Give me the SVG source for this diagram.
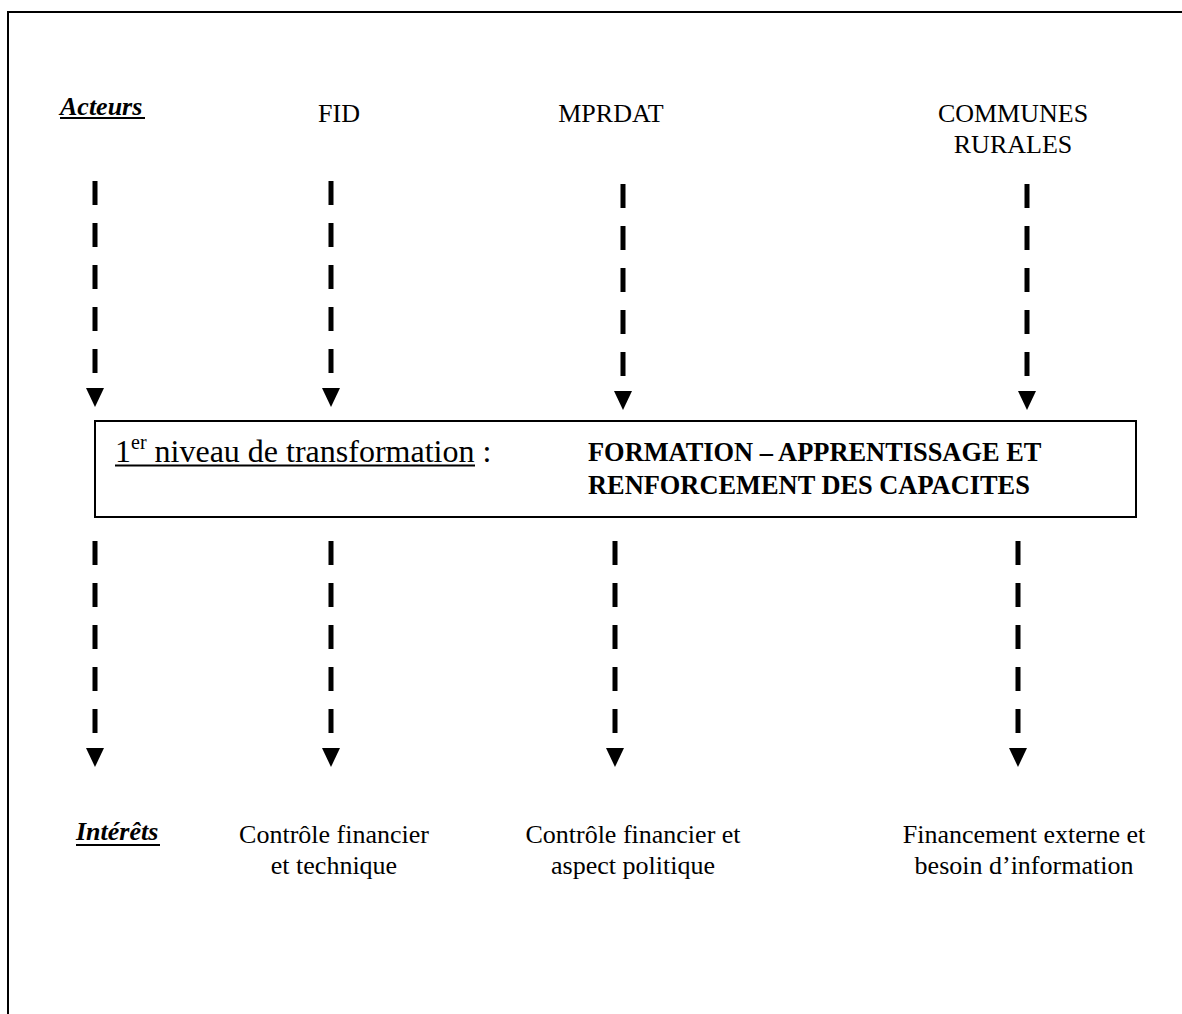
<svg xmlns="http://www.w3.org/2000/svg" width="1182" height="1014" viewBox="0 0 1182 1014">
<style>
  text { font-family: "Liberation Serif", "Times New Roman", serif; font-size: 26px; fill: #000; }
  .bi { font-weight: bold; font-style: italic; }
  .b { font-weight: bold; font-size: 26.4px; }
  .mid { text-anchor: middle; }
  .dash { stroke: #000; stroke-width: 5; stroke-dasharray: 24 18; fill: none; marker-end: url(#tri); }
  .ul { stroke: #000; stroke-width: 2; }
  .frame { fill: none; stroke: #000; stroke-width: 2; }
</style>
<defs>
  <marker id="tri" markerUnits="userSpaceOnUse" viewBox="0 0 24 18" markerWidth="24" markerHeight="18" refX="0" refY="9" orient="auto">
    <path d="M4,0 L23,9 L4,18 z" fill="#000"/>
  </marker>
</defs>
<rect width="1182" height="1014" fill="#fff"/>
<rect id="frame" class="frame" x="8" y="12" width="1200" height="1100"/>

<g id="label-acteurs">
  <text class="bi" x="60" y="115">Acteurs</text>
  <line class="ul" x1="60" y1="118" x2="145" y2="118"/>
</g>
<g id="actor-fid"><text class="mid" x="339" y="122">FID</text></g>
<g id="actor-mprdat"><text class="mid" x="611" y="122">MPRDAT</text></g>
<g id="actor-communes">
  <text class="mid" x="1013" y="122">COMMUNES</text>
  <text class="mid" x="1013" y="153">RURALES</text>
</g>

<g id="transformation-box">
  <rect x="95" y="421" width="1041" height="96" fill="none" stroke="#000" stroke-width="2"/>
  <text x="115" y="462" style="font-size:32px">1<tspan dy="-13" style="font-size:20px">er</tspan><tspan dy="13"> niveau de transformation</tspan> :</text>
  <line class="ul" x1="115" y1="465.5" x2="475" y2="465.5" stroke-width="1.6"/>
  <text class="b" x="588" y="461">FORMATION – APPRENTISSAGE ET</text>
  <text class="b" x="588" y="494">RENFORCEMENT DES CAPACITES</text>
</g>

<g id="connectors">
  <line class="dash" x1="95" y1="181" x2="95" y2="384"/>
  <line class="dash" x1="331" y1="181" x2="331" y2="384"/>
  <line class="dash" x1="623" y1="184" x2="623" y2="387"/>
  <line class="dash" x1="1027" y1="184" x2="1027" y2="387"/>
  <line class="dash" x1="95" y1="541" x2="95" y2="744"/>
  <line class="dash" x1="331" y1="541" x2="331" y2="744"/>
  <line class="dash" x1="615" y1="541" x2="615" y2="744"/>
  <line class="dash" x1="1018" y1="541" x2="1018" y2="744"/>
</g>

<g id="label-interets">
  <text class="bi" x="76" y="840">Intérêts</text>
  <line class="ul" x1="76" y1="845" x2="160" y2="845"/>
</g>
<g id="interet-fid">
  <text class="mid" x="334" y="843">Contrôle financier</text>
  <text class="mid" x="334" y="874">et technique</text>
</g>
<g id="interet-mprdat">
  <text class="mid" x="633" y="843">Contrôle financier et</text>
  <text class="mid" x="633" y="874">aspect politique</text>
</g>
<g id="interet-communes">
  <text class="mid" x="1024" y="843">Financement externe et</text>
  <text class="mid" x="1024" y="874">besoin d’information</text>
</g>
</svg>
